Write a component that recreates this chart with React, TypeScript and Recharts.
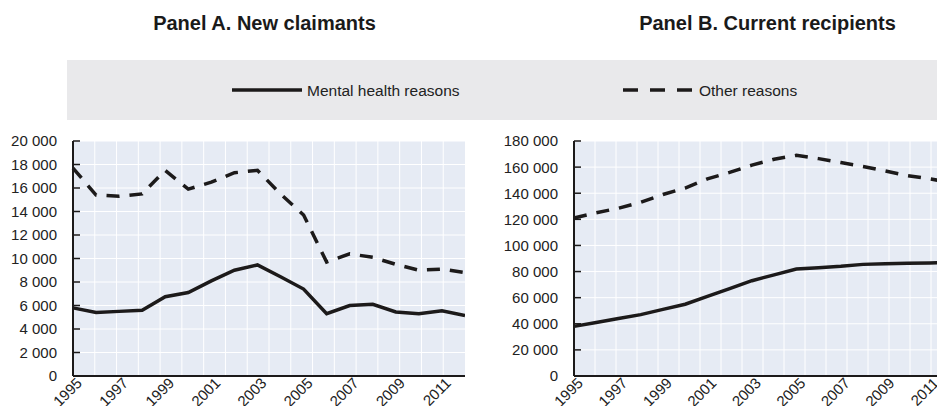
import { CartesianGrid, Line, LineChart, XAxis, YAxis } from "recharts";

const YEARS = [
  "1995", "1996", "1997", "1998", "1999", "2000", "2001", "2002", "2003",
  "2004", "2005", "2006", "2007", "2008", "2009", "2010", "2011", "2012",
];

// Panel A. New claimants
const NEW_MENTAL = [
  5800, 5400, 5500, 5600, 6750, 7100, 8100, 9000, 9450,
  8450, 7400, 5300, 6000, 6100, 5450, 5300, 5550, 5150,
];
const NEW_OTHER = [
  17700, 15400, 15300, 15500, 17500, 15900, 16500, 17300, 17500,
  15500, 13700, 9700, 10400, 10100, 9500, 9000, 9100, 8800,
];

// Panel B. Current recipients
const CUR_MENTAL = [
  38000, 41000, 44000, 47000, 51000, 55000, 61000, 67000, 73000,
  77500, 82000, 83000, 84000, 85500, 86000, 86300, 86600, 87000,
];
const CUR_OTHER = [
  121000, 125000, 128500, 133000, 139000, 144000, 151000, 156000, 161500,
  166000, 169000, 166500, 163500, 160500, 157000, 153500, 151000, 148000,
];

const TICKS_A = [0, 2000, 4000, 6000, 8000, 10000, 12000, 14000, 16000, 18000, 20000];
const TICKS_B = [0, 20000, 40000, 60000, 80000, 100000, 120000, 140000, 160000, 180000];

const TITLES = ["Panel A. New claimants", "Panel B. Current recipients"];
const SERIES = ["Mental health reasons", "Other reasons"];

const dataA = YEARS.map((year, i) => ({ year, mental: NEW_MENTAL[i], other: NEW_OTHER[i] }));
const dataB = YEARS.map((year, i) => ({ year, mental: CUR_MENTAL[i], other: CUR_OTHER[i] }));

const INK = "#1c1a1a";
const PLOT_BG = "#e6ebf4";
const FONT = "'Liberation Sans', Arial, sans-serif";

const fmt = (v: number) => String(v).replace(/\B(?=(\d{3})+(?!\d))/g, " ");

function YearTick({ x, y, payload }: any) {
  return (
    <g transform={`translate(${x + 10},${y + 8})`}>
      <text textAnchor="end" transform="rotate(-45)" fontSize={15} fontFamily={FONT} fill="#222">
        {payload.value}
      </text>
    </g>
  );
}

function ValueTick({ x, y, payload }: any) {
  // x is 16px left of the axis line; short tick marks point into the plot
  return (
    <g>
      <line x1={x + 16} x2={x + 23} y1={y} y2={y} stroke={INK} strokeWidth={1.5} />
      <text x={x} y={y} dy="0.36em" textAnchor="end" fontSize={15} fontFamily={FONT} fill="#222">
        {fmt(payload.value)}
      </text>
    </g>
  );
}

interface PanelProps {
  data: { year: string; mental: number; other: number }[];
  ticks: number[];
  max: number;
  width: number;
  yWidth: number;
}

function Panel({ data, ticks, max, width, yWidth }: PanelProps) {
  return (
    <LineChart
      width={width}
      height={414}
      data={data}
      margin={{ top: 141, right: 0, bottom: 0, left: 0 }}
    >
      <CartesianGrid
        stroke="#ffffff"
        strokeWidth={1}
        fill={PLOT_BG}
        fillOpacity={1}
        verticalCoordinatesGenerator={({ offset }: any) =>
          data.slice(1).map((_, i) => offset.left + ((i + 1) * offset.width) / data.length)
        }
      />
      <XAxis
        dataKey="year"
        height={38}
        interval={1}
        tickLine={false}
        tickSize={0}
        tickMargin={0}
        axisLine={{ stroke: INK, strokeWidth: 2 }}
        tick={<YearTick />}
      />
      <XAxis xAxisId="top" dataKey="year" orientation="top" height={0} tick={false} tickLine={false} axisLine={{ stroke: INK, strokeWidth: 2 }} />
      <YAxis
        width={yWidth}
        domain={[0, max]}
        ticks={ticks}
        tickLine={false}
        tickSize={0}
        tickMargin={16}
        axisLine={{ stroke: INK, strokeWidth: 2 }}
        tick={<ValueTick />}
        interval={0}
      />
      <YAxis yAxisId="right" orientation="right" width={0} tick={false} tickLine={false} axisLine={{ stroke: INK, strokeWidth: 2 }} />
      <Line
        dataKey="other"
        name={SERIES[1]}
        stroke={INK}
        strokeWidth={3.5}
        strokeDasharray="13 10"
        dot={false}
        isAnimationActive={false}
      />
      <Line
        dataKey="mental"
        name={SERIES[0]}
        stroke={INK}
        strokeWidth={3.5}
        dot={false}
        isAnimationActive={false}
      />
    </LineChart>
  );
}

export default function App() {
  return (
    <div
      style={{
        position: "relative",
        width: 945,
        height: 414,
        margin: -8,
        overflow: "hidden",
        background: "#fff",
      }}
    >
      <svg width={945} height={130} style={{ position: "absolute", left: 0, top: 0 }}>
        <text x={264.5} y={30} textAnchor="middle" fontSize={20} fontWeight="bold" fontFamily={FONT} fill="#1a1a1a">
          {TITLES[0]}
        </text>
        <text x={767.5} y={30} textAnchor="middle" fontSize={20} fontWeight="bold" fontFamily={FONT} fill="#1a1a1a">
          {TITLES[1]}
        </text>
        <rect x={67} y={60} width={878} height={60} fill="#e9e9eb" />
        <line x1={232} x2={302} y1={90} y2={90} stroke={INK} strokeWidth={3.5} />
        <line x1={623} x2={692} y1={90} y2={90} stroke={INK} strokeWidth={3.5} strokeDasharray="15 12" />
        <text x={307} y={95.5} fontSize={15.5} fontFamily={FONT} fill="#222">
          {SERIES[0]}
        </text>
        <text x={699} y={95.5} fontSize={15.5} fontFamily={FONT} fill="#222">
          {SERIES[1]}
        </text>
      </svg>
      <div style={{ position: "absolute", left: 0, top: 0 }}>
        <Panel data={dataA} ticks={TICKS_A} max={20000} width={465} yWidth={73} />
      </div>
      <div style={{ position: "absolute", left: 475, top: 0 }}>
        <Panel data={dataB} ticks={TICKS_B} max={180000} width={477} yWidth={99} />
      </div>
    </div>
  );
}
